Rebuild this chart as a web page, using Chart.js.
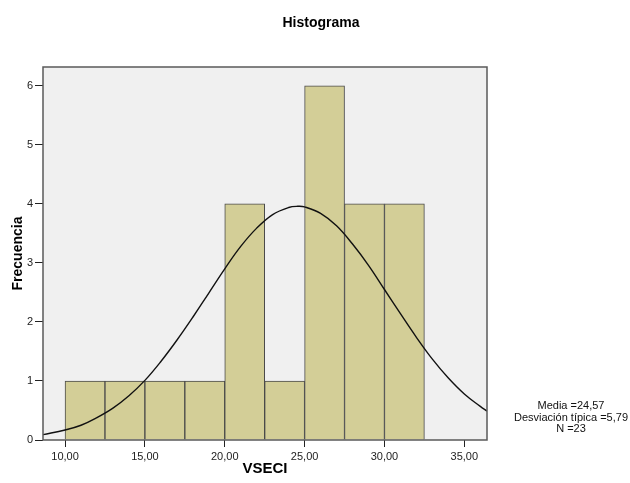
<!DOCTYPE html>
<html>
<head>
<meta charset="utf-8">
<title>Histograma</title>
<script src="https://cdn.jsdelivr.net/npm/chart.js@4.4.1/dist/chart.umd.min.js"></script>
<style>
  html, body { margin: 0; padding: 0; background: #fff; }
  #wrap { width: 630px; height: 483px; }
</style>
</head>
<body>
<div id="wrap"><canvas id="histo" width="630" height="483"></canvas></div>
<script>
// bins of width 2,5
const binCenters = [11.25, 13.75, 16.25, 18.75, 21.25, 23.75, 26.25, 28.75, 31.25];
const frequencies = [1, 1, 1, 1, 4, 1, 6, 4, 4];

// normal curve
const curveX = [8.62, 10, 11, 12, 13, 14, 15, 16, 17, 18, 19, 20, 21, 22, 23, 24, 24.57, 25, 26, 27, 28, 29, 30, 31, 32, 33, 34, 35, 36, 36.42];
const curveY = [0.09, 0.17, 0.25, 0.38, 0.54, 0.75, 1.01, 1.33, 1.69, 2.08, 2.49, 2.90, 3.28, 3.59, 3.82, 3.94, 3.96, 3.95, 3.84, 3.63, 3.32, 2.96, 2.55, 2.14, 1.74, 1.37, 1.05, 0.78, 0.57, 0.49];

const chartTitle = 'Histograma';
const statsLines = ['Media =24,57', 'Desviación típica =5,79', 'N =23'];

const fontFam = '"Liberation Sans", Arial, sans-serif';

const plotFrame = {
  id: 'plotFrame',
  beforeDatasetsDraw(chart) {
    const a = chart.chartArea, ctx = chart.ctx;
    ctx.save();
    ctx.fillStyle = '#f0f0f0';
    ctx.fillRect(a.left, a.top, a.right - a.left, a.bottom - a.top);
    ctx.restore();
  },
  afterDatasetsDraw(chart) {
    const a = chart.chartArea, ctx = chart.ctx;
    ctx.save();
    ctx.strokeStyle = '#5a5a5a';
    ctx.lineWidth = 1.5;
    ctx.strokeRect(a.left, a.top, a.right - a.left, a.bottom - a.top);
    ctx.restore();
  },
  afterDraw(chart) {
    const ctx = chart.ctx;
    ctx.save();
    ctx.fillStyle = '#000';
    ctx.textAlign = 'center';
    ctx.textBaseline = 'middle';
    // title over the whole picture, not only the plot
    ctx.font = 'bold 14px ' + fontFam;
    ctx.fillText(chartTitle, 321, 23);
    ctx.fillStyle = '#111';
    ctx.font = '11px ' + fontFam;
    statsLines.forEach((t, i) => ctx.fillText(t, 571, 406 + i * 11.5));
    ctx.restore();
  }
};

const fmt = v => v.toFixed(2).replace('.', ',');

new Chart(document.getElementById('histo'), {
  type: 'bar',
  data: {
    datasets: [
      {
        type: 'line',
        data: curveX.map((x, i) => ({ x: x, y: curveY[i] })),
        borderColor: '#111',
        borderWidth: 1.4,
        pointRadius: 0,
        tension: 0.4,
        fill: false,
        order: 0
      },
      {
        type: 'bar',
        data: binCenters.map((x, i) => ({ x: x, y: frequencies[i] })),
        backgroundColor: '#d3ce97',
        borderColor: '#4a4a4a',
        borderWidth: 1,
        barPercentage: 1,
        categoryPercentage: 1,
        order: 1
      }
    ]
  },
  options: {
    responsive: false,
    animation: false,
    layout: { padding: { left: 0, right: 143, top: 67, bottom: 0 } },
    plugins: {
      legend: { display: false },
      tooltip: { enabled: false },
      title: { display: false }
    },
    scales: {
      x: {
        type: 'linear',
        min: 8.62,
        max: 36.42,
        offset: false,
        grid: { drawOnChartArea: false, drawTicks: true, tickLength: 7, color: '#222', offset: false },
        border: { display: false },
        ticks: {
          stepSize: 5,
          includeBounds: false,
          color: '#222',
          padding: 3,
          maxRotation: 0,
          font: { family: fontFam, size: 11 },
          callback: v => fmt(v)
        },
        title: {
          display: true,
          text: 'VSECI',
          color: '#000',
          font: { family: fontFam, size: 15, weight: 'bold' },
          padding: 5
        },
        afterFit(scale) { scale.height = 43; }
      },
      y: {
        min: 0,
        max: 6.32,
        grid: { drawOnChartArea: false, drawTicks: true, tickLength: 8, color: '#222' },
        border: { display: false },
        ticks: {
          stepSize: 1,
          includeBounds: false,
          color: '#222',
          padding: 2,
          font: { family: fontFam, size: 11 }
        },
        title: {
          display: true,
          text: 'Frecuencia',
          color: '#000',
          font: { family: fontFam, size: 14, weight: 'bold' },
          padding: 10
        },
        afterFit(scale) { scale.width = 43; }
      }
    }
  },
  plugins: [plotFrame]
});
</script>
</body>
</html>
